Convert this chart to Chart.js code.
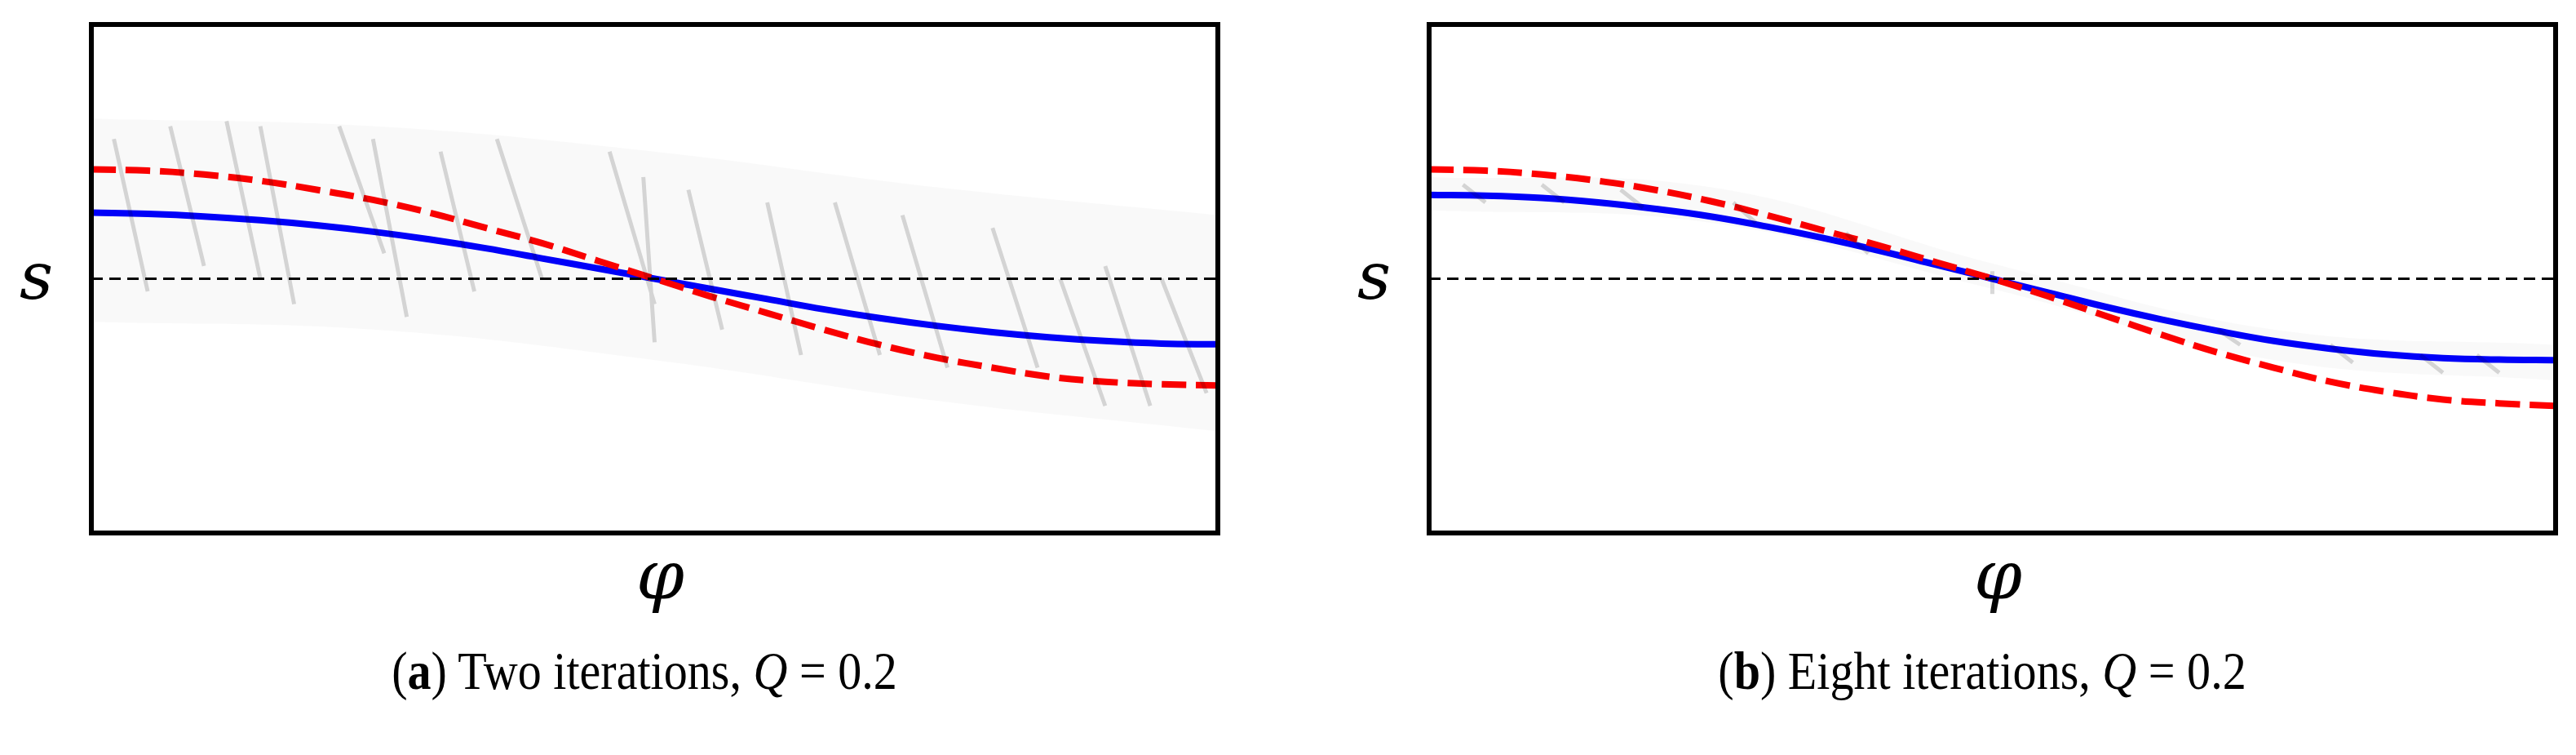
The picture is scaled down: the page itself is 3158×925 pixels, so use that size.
<!DOCTYPE html>
<html><head><meta charset="utf-8">
<script src="https://cdn.jsdelivr.net/npm/chart.js@4/dist/chart.umd.min.js"></script>
<style>
body{margin:0;width:3158px;height:925px;background:#fff;position:relative;overflow:hidden;font-family:"Liberation Serif",serif}
canvas{position:absolute}
.t{position:absolute;white-space:nowrap;color:#000}
</style></head><body>
<div style="position:absolute;left:107px;top:25px;width:1391px;height:633px"><canvas id="c1"></canvas></div>
<div style="position:absolute;left:1747px;top:25px;width:1391px;height:633px"><canvas id="c2"></canvas></div>
<div class="t" style="left:24px;top:292px;font-size:80px;font-style:italic;font-family:'DejaVu Serif',serif">s</div>
<div class="t" style="left:1664px;top:292px;font-size:80px;font-style:italic;font-family:'DejaVu Serif',serif">s</div>
<div class="t" style="left:780px;top:655px;font-size:84px;font-style:italic;font-family:'DejaVu Serif',serif">φ</div>
<div class="t" style="left:2420px;top:655px;font-size:84px;font-style:italic;font-family:'DejaVu Serif',serif">φ</div>
<div class="t" style="left:790px;top:784px;font-size:66px;transform:translateX(-50%) scaleX(0.88)">(<b>a</b>) Two iterations, <i>Q</i> = 0.2</div>
<div class="t" style="left:2430px;top:784px;font-size:66px;transform:translateX(-50%) scaleX(0.88)">(<b>b</b>) Eight iterations, <i>Q</i> = 0.2</div>
<script>
const phi=[0,0.05,0.1,0.15,0.2,0.25,0.3,0.35,0.4,0.45,0.5,0.55,0.6,0.65,0.7,0.75,0.8,0.85,0.9,0.95,1];
const redA=[0.43,0.425,0.41,0.385,0.35,0.31,0.26,0.2,0.14,0.07,0.0,-0.07,-0.135,-0.2,-0.26,-0.31,-0.35,-0.385,-0.405,-0.415,-0.42];
const blueA=[0.26,0.255,0.245,0.23,0.21,0.185,0.155,0.12,0.08,0.04,0.0,-0.04,-0.08,-0.12,-0.155,-0.185,-0.21,-0.23,-0.245,-0.255,-0.258];
const redB=[0.43,0.425,0.41,0.385,0.35,0.305,0.25,0.19,0.13,0.065,0.0,-0.07,-0.145,-0.22,-0.29,-0.35,-0.405,-0.445,-0.475,-0.49,-0.5];
const blueB=[0.33,0.327,0.318,0.3,0.275,0.245,0.205,0.16,0.11,0.055,0.0,-0.055,-0.11,-0.16,-0.205,-0.245,-0.275,-0.298,-0.312,-0.318,-0.32];
const hazeX=[0,0.25,0.5,0.75,1];
const hazeTopA=[0.63,0.6,0.5,0.36,0.25];
const hazeBotA=[-0.17,-0.2,-0.32,-0.48,-0.6];
const hazeTopB=[0.4,0.36,0.06,-0.2,-0.26];
const hazeBotB=[0.27,0.22,-0.04,-0.32,-0.4];
const streaksA=[[0.02,0.55,0.05,-0.05],[0.07,0.6,0.1,0.05],[0.12,0.62,0.15,0.0],[0.15,0.6,0.18,-0.1],[0.22,0.6,0.26,0.1],[0.25,0.55,0.28,-0.15],[0.31,0.5,0.34,-0.05],[0.36,0.55,0.4,0.0],[0.46,0.5,0.5,-0.1],[0.49,0.4,0.5,-0.25],[0.53,0.35,0.56,-0.2],[0.6,0.3,0.63,-0.3],[0.66,0.3,0.7,-0.3],[0.72,0.25,0.76,-0.35],[0.8,0.2,0.84,-0.35],[0.86,0.0,0.9,-0.5],[0.9,0.05,0.94,-0.5],[0.95,0.0,0.99,-0.45]];
const streaksB=[[0.03,0.37,0.05,0.3],[0.1,0.37,0.12,0.3],[0.17,0.35,0.19,0.28],[0.27,0.3,0.29,0.22],[0.37,0.18,0.39,0.1],[0.5,0.03,0.5,-0.06],[0.7,-0.2,0.72,-0.26],[0.8,-0.26,0.82,-0.33],[0.88,-0.3,0.9,-0.37],[0.93,-0.3,0.95,-0.37]];
function pts(xs,ys){return xs.map((x,i)=>({x,y:ys[i]}));}
function streakPts(s){const o=[];s.forEach(a=>{o.push({x:a[0],y:a[1]},{x:a[2],y:a[3]},{x:NaN,y:NaN});});return o;}
const box={id:'box',afterDraw(c){const a=c.chartArea,g=c.ctx;g.save();g.strokeStyle='#000';g.lineWidth=6;g.strokeRect(a.left,a.top,a.right-a.left,a.bottom-a.top);g.restore();}};
function make(id,red,blue,ht,hb,st){
 new Chart(document.getElementById(id),{type:'scatter',plugins:[box],
  data:{datasets:[
   {data:pts(hazeX,ht),showLine:true,borderWidth:0,pointRadius:0,fill:'+1',backgroundColor:'rgba(0,0,0,0.025)',tension:0.4},
   {data:pts(hazeX,hb),showLine:true,borderWidth:0,pointRadius:0,tension:0.4},
   {data:streakPts(st),showLine:true,spanGaps:false,borderColor:'rgba(0,0,0,0.15)',borderWidth:5,pointRadius:0},
   {data:[{x:0,y:0},{x:1,y:0}],showLine:true,borderColor:'#000',borderWidth:3,borderDash:[14,8],pointRadius:0},
   {data:pts(phi,red),showLine:true,borderColor:'#ff0000',borderWidth:8,borderDash:[30,12],pointRadius:0,tension:0.4},
   {data:pts(phi,blue),showLine:true,borderColor:'#0000ff',borderWidth:8,pointRadius:0,tension:0.4}
  ]},
  options:{responsive:true,maintainAspectRatio:false,animation:false,layout:{padding:5},
   plugins:{legend:{display:false},tooltip:{enabled:false}},
   scales:{x:{type:'linear',min:0,max:1,display:false},y:{min:-1,max:1,display:false}}}});
}
make('c1',redA,blueA,hazeTopA,hazeBotA,streaksA);
make('c2',redB,blueB,hazeTopB,hazeBotB,streaksB);
</script></body></html>
